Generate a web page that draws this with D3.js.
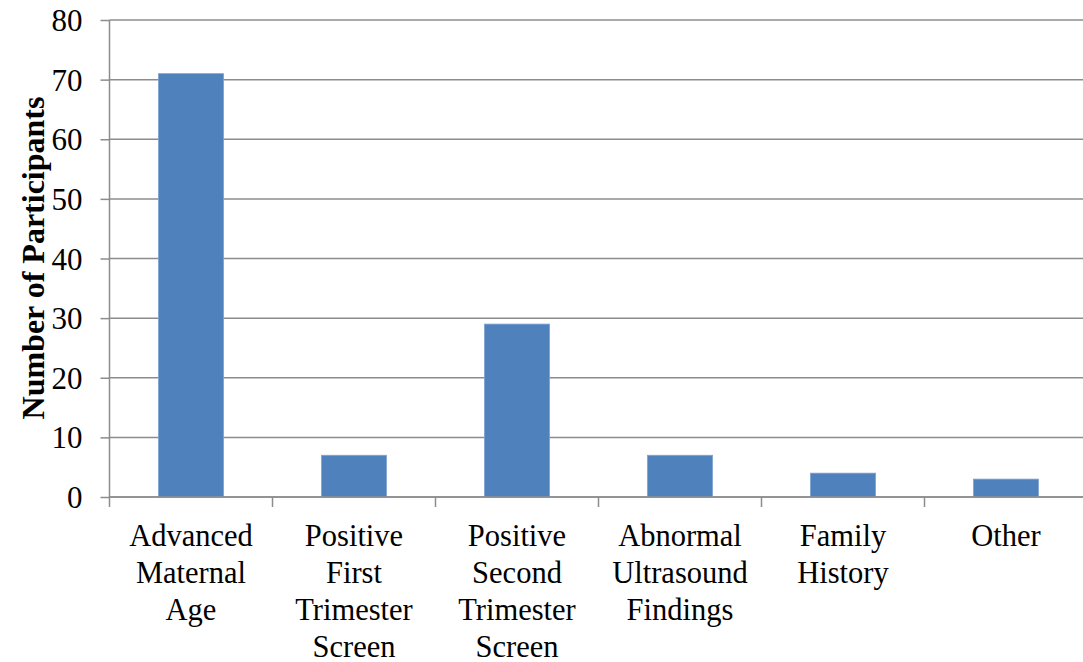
<!DOCTYPE html>
<html><head><meta charset="utf-8">
<script src="https://cdn.jsdelivr.net/npm/d3@7"></script>
<style>body{margin:0;background:#fff}svg{display:block}</style>
</head><body><svg id="c" width="1083" height="662"></svg>
<script>
const categories = [["Advanced","Maternal","Age"],["Positive","First","Trimester","Screen"],["Positive","Second","Trimester","Screen"],["Abnormal","Ultrasound","Findings"],["Family","History"],["Other"]];
const values = [71, 7, 29, 7, 4, 3];
const yTicks = [0,10,20,30,40,50,60,70,80];

const svg = d3.select("#c");
const x0 = 109.5, bandW = 163, y0 = 497, y1 = 20;
const x = d3.scaleBand().domain(d3.range(categories.length)).range([x0, x0 + bandW*categories.length]).paddingInner(0.6).paddingOuter(0.3);
const y = d3.scaleLinear().domain([0,80]).range([y0, y1]);
const font = "'Liberation Serif','Times New Roman',serif";

// gridlines
svg.append("g").selectAll("line").data(yTicks).join("line")
  .attr("x1", x0).attr("x2", 1083).attr("y1", d=>y(d)).attr("y2", d=>y(d))
  .attr("stroke", "#8c8c8c").attr("stroke-width", 1.5);

// bars
svg.append("g").selectAll("rect").data(values).join("rect")
  .attr("x", (d,i)=>x(i)).attr("width", x.bandwidth())
  .attr("y", d=>y(d)).attr("height", d=>y0 - y(d))
  .attr("fill", "#4f81bd").attr("stroke", "#7fa3d1").attr("stroke-width", 0.8);

// y axis
const yAxis = d3.axisLeft(y).tickValues(yTicks).tickSize(9).tickPadding(18);
const ga = svg.append("g").attr("transform", `translate(${x0},0)`).call(yAxis);
ga.select(".domain").attr("stroke", "#8c8c8c").attr("stroke-width", 1.5).attr("d", `M0,${y1}V${y0}`);
ga.selectAll(".tick line").attr("stroke", "#8c8c8c").attr("stroke-width", 1.5);
ga.selectAll(".tick text").attr("font-family", font).attr("font-size", 31).attr("fill", "#000").attr("dy", "0.34em");

// x axis baseline and category ticks
const xb = d3.range(categories.length + 1).map(i => x0 + i*bandW);
svg.append("line").attr("x1", x0).attr("x2", 1083).attr("y1", y0).attr("y2", y0).attr("stroke", "#8c8c8c").attr("stroke-width", 1.5);
svg.append("g").selectAll("line").data(xb).join("line")
  .attr("x1", d=>d).attr("x2", d=>d).attr("y1", y0).attr("y2", y0 + 10)
  .attr("stroke", "#8c8c8c").attr("stroke-width", 1.5);

// category labels
const lab = svg.append("g").selectAll("text").data(categories).join("text")
  .attr("font-family", font).attr("font-size", 30.5).attr("text-anchor", "middle").attr("fill", "#000");
lab.each(function(lines, i){
  const t = d3.select(this);
  lines.forEach((s, j) => t.append("tspan").attr("x", x(i) + x.bandwidth()/2).attr("y", 546 + j*37).text(s));
});

// y title
svg.append("text").attr("transform", "translate(44,258) rotate(-90)")
  .attr("text-anchor", "middle").attr("font-family", font).attr("font-size", 32).attr("font-weight", "bold")
  .text("Number of Participants");
</script></body></html>
